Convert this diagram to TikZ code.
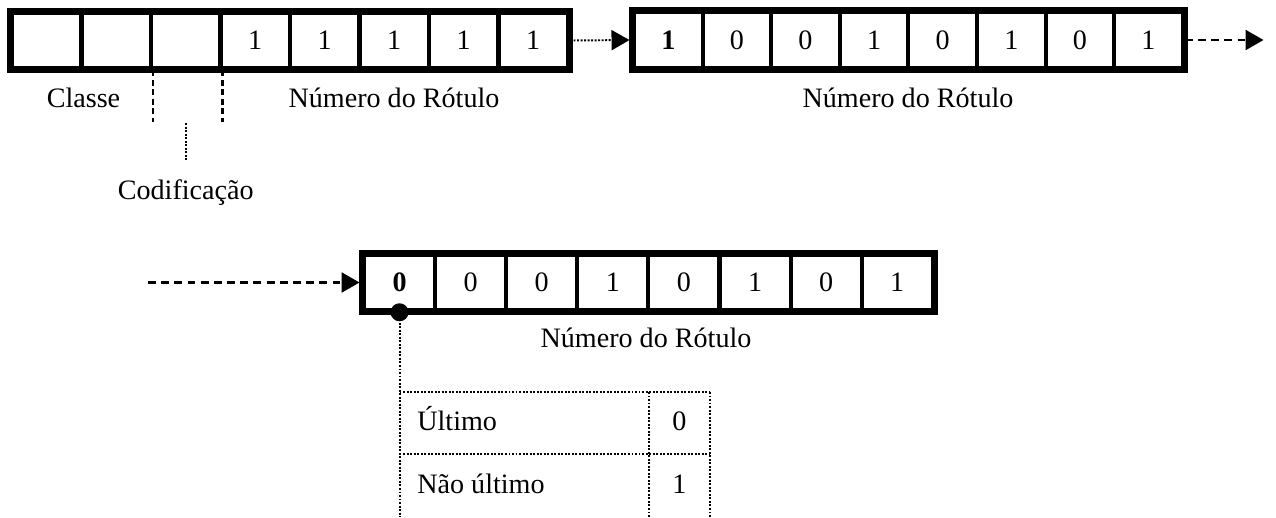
\documentclass[tikz,border=0pt]{standalone}
\usepackage{fontspec}
\setmainfont{Liberation Serif}
\usetikzlibrary{arrows.meta}

\tikzset{
  bitcell/.style={draw,line width=2.3pt,inner sep=0pt,minimum width=#1,minimum height=11.1mm,
    font=\fontsize{16}{19}\selectfont},
  rowframe/.style={line width=3.2pt},
  lbl/.style={anchor=base,inner sep=0pt,font=\fontsize{16}{19}\selectfont},
  dotline/.style={line width=1.1pt,dash pattern=on 1.1pt off 0.9pt},
  dashline/.style={line width=1.3pt,dash pattern=on 4.5pt off 3pt},
  vdash/.style={line width=1.2pt,dash pattern=on 3.4pt off 2pt},
  headtip/.style={-{Triangle[length=3.6mm,width=4mm]},shorten >=1.4pt},
  flagdot/.style={circle,fill,inner sep=0pt,minimum size=3.6mm},
}

\begin{document}
\begin{tikzpicture}[x=0.2mm,y=-0.2mm]
\useasboundingbox (0,0) rectangle (1276,517);
% first label word
\foreach \b [count=\i] in {{},{},{},1,1,1,1,1}
  \node[bitcell=13.9mm] (r1c\i) at ({46.75+69.5*(\i-1)},40.5) {\b};
\draw[rowframe] (r1c1.north west) rectangle (r1c8.south east);
% second label word
\foreach \b [count=\i] in {\textbf{1},0,0,1,0,1,0,1}
  \node[bitcell=13.72mm] (r2c\i) at ({668.3+68.6*(\i-1)},40) {\b};
\draw[rowframe] (r2c1.north west) rectangle (r2c8.south east);
% last label word
\foreach \b [count=\i] in {\textbf{0},0,0,1,0,1,0,1}
  \node[bitcell=14.22mm] (r3c\i) at ({399.55+71.1*(\i-1)},282.5) {\b};
\draw[rowframe] (r3c1.north west) rectangle (r3c8.south east);

% links between words
\coordinate (out) at (1266,40);
\coordinate (in) at (148,282.5);
\draw[dotline,headtip] (r1c8.east) -- (r2c1.west);
\draw[dashline,headtip] (r2c8.east) -- (out);
\draw[dashline,headtip] (in) -- (r3c1.west);

% field names
\node[lbl] (cls) at (r1c1.south east |- 0,107) {Classe};
\node[lbl] (num1) at (394,107) {Número do Rótulo};
\node[lbl] (num2) at (908,107) {Número do Rótulo};
\node[lbl] (num3) at (646,347) {Número do Rótulo};
\node[lbl] (cod) at (r1c3.south |- 0,199) {Codificação};
\draw[vdash] (r1c2.south east) -- ++(0,52);
\draw[vdash] (r1c3.south east) -- ++(0,52);
\draw[dotline] (r1c3.south) ++(0,53) -- ++(0,38);

% last-word flag
\node[flagdot] (flag) at (r3c1.south) {};
\coordinate (foot) at (flag |- 0,517);
\draw[dotline] (flag.center) -- (foot);
\draw[dotline] (flag |- 0,392) -- (710,392);
\draw[dotline] (flag |- 0,454) -- (710,454);
\draw[dotline] (649,392) -- (649,517);
\draw[dotline] (710,392) -- (710,517);
\node[lbl,anchor=base west] (last) at (417,430) {Último};
\node[lbl] (val0) at (679.5,430) {0};
\node[lbl,anchor=base west] (notlast) at (417,493) {Não último};
\node[lbl] (val1) at (679.5,493) {1};
\end{tikzpicture}
\end{document}
